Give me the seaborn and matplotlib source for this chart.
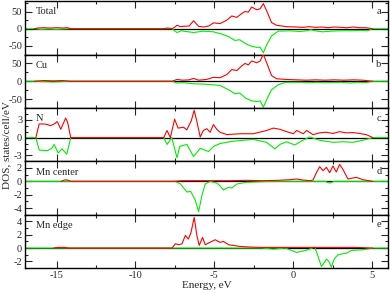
import matplotlib
matplotlib.use("Agg")
import matplotlib.pyplot as plt
from matplotlib.ticker import MultipleLocator
import seaborn as sns
import pandas as pd

# ---------------- data ----------------
panel_names = ["Total", "Cu", "N", "Mn center", "Mn edge"]
panel_letters = ["a", "b", "c", "d", "e"]

total_up_E = [-16.4, -16.2, -15.8, -15.4, -15.0, -14.6, -14.3, -14.1, -8.2, -8.0, -7.8, -7.68, -7.5, -7.37, -7.15, -6.95,
              -6.6, -6.32, -6.0, -5.68, -5.35, -5.06, -4.64, -4.21, -3.9, -3.58, -3.27, -3.06, -2.85, -2.64, -2.32,
              -2.1, -1.9, -1.69, -1.38, -1.06, -0.43, 0.2, 0.6, 1.0, 1.4, 1.8, 2.2, 2.6, 3.0, 3.4, 3.8, 4.2, 4.6, 5.03]
total_up = [0, 2, 3, 2, 3, 2, 3, 0, 0, 2, 1, 0, 5, 10, 6, 7, 8, 23, 7, 5, 8, 17, 15, 25, 37, 33, 44, 50, 48, 63, 55,
            58, 73, 52, 18, 10, 6, 5, 4, 6, 4, 5, 3, 5, 4, 3, 5, 3, 3, 0]
total_dn_E = [-17, -16.4, -16.0, -15.5, -15.0, -14.5, -14.1, -8.0, -7.68, -7.37, -7.1, -6.8, -6.32, -5.7, -5.06, -4.5,
              -4.1, -3.7, -3.4, -3.0, -2.64, -2.32, -2.1, -1.9, -1.69, -1.38, -0.96, -0.22, 0.4, 0.84, 1.1, 1.5, 1.86,
              2.4, 3.0, 3.6, 4.2, 4.7, 5.03, 6]
total_dn = [0, 0, -2, -1, -2, -1, 0, 0, 0, -11, -6, -8, -11, -7, -9, -16, -23, -34, -32, -44, -51, -54, -54, -70, -47,
            -21, -7, -6, -8, -6, -3, -7, -9, -7, -6, -6, -5, -6, 0, 0]

cu_up_E = [-16.4, -15.8, -15.2, -14.6, -14.1, -8.2, -7.68, -7.37, -7.0, -6.6, -6.32, -6.0, -5.5, -5.06, -4.64, -4.21,
           -3.9, -3.58, -3.27, -3.06, -2.85, -2.64, -2.32, -2.1, -1.9, -1.69, -1.38, -1.06, -0.43, 0.2, 0.8, 1.4, 2.0,
           2.6, 3.2, 3.8, 4.4, 5.03]
cu_up = [0, 2, 1, 2, 0, 0, 0, 5, 3, 4, 8, 3, 5, 11, 10, 19, 33, 30, 43, 50, 46, 57, 52, 57, 76, 52, 16, 7, 5, 4, 3, 4,
         3, 4, 3, 4, 3, 0]
cu_dn_E = [-17, -16.4, -15.8, -15.2, -14.6, -14.1, -8.0, -7.68, -7.37, -7.0, -6.32, -5.7, -5.06, -4.64, -4.1, -3.7,
           -3.4, -3.0, -2.64, -2.32, -2.1, -1.9, -1.69, -1.38, -0.96, -0.5, 0.5, 1.0, 1.5, 2.0, 3.0, 3.6, 4.0, 4.6,
           5.03, 6]
cu_dn = [0, 0, -1, -2, -1, 0, 0, 0, -5, -4, -7, -8, -10, -12, -24, -35, -33, -48, -55, -57, -55, -73, -52, -24, -10,
         -3, -3, -4, -3, -4, -3, -5, -3, -4, 0, 0]

n_up_E = [-16.31, -16.1, -15.8, -15.57, -15.4, -15.15, -14.95, -14.73, -14.42, -14.3, -14.1, -8.21, -8.0, -7.79,
          -7.52, -7.3, -6.95, -6.75, -6.47, -6.28, -6.1, -5.9, -5.7, -5.48, -5.27, -5.06, -4.85, -4.64, -4.21, -3.38,
          -2.54, -1.69, -1.27, -0.85, -0.42, 0.0, 0.21, 0.63, 0.84, 1.25, 1.67, 2.09, 2.5, 2.93, 3.35, 3.77, 4.2,
          4.62, 5.04]
n_up = [0, 2.3, 2.3, 2.2, 2.0, 2.3, 2.7, 1.4, 3.3, 2.6, 0, 0, 1.2, 0, 3.1, 1.6, 1.75, 1.3, 2.8, 4.6, 2.6, 0.1, 1.2,
        1.5, 0.9, 2.2, 1.4, 0.9, 0.5, 0.65, 0.65, 1.2, 1.6, 1.4, 1.0, 0.65, 1.2, 0.65, 1.2, 0.5, 0.8, 0.9, 0.7, 1.0,
        0.8, 0.85, 0.7, 0.5, 0]
n_dn_E = [-17, -16.31, -16.1, -15.57, -15.3, -15.15, -14.9, -14.65, -14.35, -14.1, -8.21, -8.0, -7.7, -7.37, -7.2,
          -6.74, -6.32, -5.9, -5.37, -5.06, -4.64, -3.8, -2.54, -1.69, -1.17, -0.85, -0.42, 0.09, 0.5, 1.04, 1.67,
          2.52, 3.15, 3.77, 4.4, 5.04, 6]
n_dn = [0, 0, -2.1, -2.2, -1.8, -1.15, -2.6, -1.9, -2.8, 0, 0, -1.15, 0, -3.4, -1.5, -1.15, -3.2, -1.8, -2.35, -1.5,
        -1.0, -0.6, -0.3, -0.8, -1.9, -1.15, -0.7, -1.25, -0.6, 0.1, -0.45, -0.8, -0.7, -0.8, -0.45, 0, 0]

mnc_up_E = [-14.7, -14.5, -14.3, -14.1, -7.6, -7.0, -6.0, -5.0, -4.0, -3.0, -2.0, -1.0, -0.22, 0.2, 0.6, 1.04, 1.25,
            1.46, 1.67, 1.88, 2.1, 2.3, 2.51, 2.72, 2.93, 3.14, 3.46, 3.99, 4.4, 5.03]
mnc_up = [0, 0.2, 0.2, 0, 0, 0.1, 0.1, 0.1, 0.1, 0.15, 0.1, 0.15, 0.25, 0.35, 0.2, 0.1, 0.2, 1.3, 2.2, 1.6, 2.1, 1.3,
          2.3, 1.4, 2.55, 1.8, 0.35, 0.6, 0.25, 0]
mnc_dn_E = [-17, -7.47, -7.15, -6.74, -6.5, -6.21, -6.0, -5.79, -5.58, -5.27, -4.85, -4.64, -4.43, -4.12, -3.9, -3.58,
            -3.0, -1.5, 2.0, 2.3, 2.6, 5.03, 6]
mnc_dn = [0, 0, -0.4, -1.6, -1.5, -2.85, -4.55, -2.1, -0.4, 0, -0.25, -0.65, -1.3, -0.9, -1.0, -0.4, -0.15, 0, 0,
          -0.25, 0, 0, 0]

mne_up_E = [-15.2, -14.9, -14.5, -14.2, -7.68, -7.47, -7.26, -7.05, -6.84, -6.65, -6.49, -6.28, -6.1, -5.96, -5.75,
            -5.58, -5.37, -4.95, -4.64, -4.43, -4.1, -3.8, -3.4, -2.74, -2.0, -1.0, 0.0, 1.0, 2.0, 3.0, 4.0, 5.03]
mne_up = [0, 0.1, 0.1, 0, 0, 0.65, 0.5, 0.65, 1.9, 1.35, 2.25, 4.6, 1.75, 0.4, 1.6, 0.5, 0.75, 1.25, 0.85, 1.0, 0.5,
          0.4, 0.25, 0.15, 0.1, 0.1, 0.1, 0.1, 0.1, 0.1, 0.1, 0]
mne_dn_E = [-17, -2.0, -1.27, -0.5, 0.2, 0.8, 1.36, 1.57, 1.78, 1.95, 2.1, 2.25, 2.41, 2.6, 2.83, 3.36, 3.7, 4.41,
            5.03, 6]
mne_dn = [0, 0, -0.15, 0, -0.65, -0.35, 0.15, -1.25, -2.75, -2.2, -1.65, -2.0, -2.85, -1.6, -1.0, -0.75, -0.35,
          -0.25, 0, 0]

up_series = [(total_up_E, total_up), (cu_up_E, cu_up), (n_up_E, n_up), (mnc_up_E, mnc_up), (mne_up_E, mne_up)]
dn_series = [(total_dn_E, total_dn), (cu_dn_E, cu_dn), (n_dn_E, n_dn), (mnc_dn_E, mnc_dn), (mne_dn_E, mne_dn)]

ylims = [(-75, 80), (-75, 75), (-4, 5), (-5, 3), (-3, 5)]
ymajor = [50, 50, 3, 2, 2]
yminor = [25, 25, 1, 1, 1]
xticks = [-15, -10, -5, 0, 5]

# ---------------- style ----------------
sns.set_style("ticks")
plt.rcParams["font.family"] = ["Liberation Serif", "DejaVu Serif"]
plt.rcParams["axes.unicode_minus"] = False
plt.rcParams["font.size"] = 7.5

fig = plt.figure(figsize=(3.9, 2.93), dpi=100)
gs = fig.add_gridspec(5, 1, left=0.064, right=0.995, top=0.996, bottom=0.085, hspace=0)

for i in range(5):
    ax = fig.add_subplot(gs[i])
    ax.axhline(0, color="black", lw=0.9, zorder=1)
    dE, dV = dn_series[i]
    uE, uV = up_series[i]
    sns.lineplot(data=pd.DataFrame({"E": dE, "V": dV}), x="E", y="V", ax=ax, color="#00ee00",
                 lw=0.8, estimator=None, sort=False, zorder=2)
    sns.lineplot(data=pd.DataFrame({"E": uE, "V": uV}), x="E", y="V", ax=ax, color="#ff0000",
                 lw=0.8, estimator=None, sort=False, zorder=3)
    ax.set_xlim(-17, 6)
    ax.set_ylim(*ylims[i])
    ax.set_xticks(xticks)
    ax.xaxis.set_minor_locator(MultipleLocator(2.5))
    ax.yaxis.set_major_locator(MultipleLocator(ymajor[i]))
    ax.yaxis.set_minor_locator(MultipleLocator(yminor[i]))
    ax.tick_params(which="both", direction="in", top=True, right=True, width=0.8, labelsize=7.5, pad=2)
    ax.tick_params(which="major", length=5)
    ax.tick_params(which="minor", length=2.5)
    for s in ax.spines.values():
        s.set_linewidth(1.0)
        s.set_color("black")
    ax.set_xlabel("")
    ax.set_ylabel("")
    if i < 4:
        ax.tick_params(labelbottom=False)
    ax.text(0.03, 0.80, panel_names[i], transform=ax.transAxes, ha="left", va="center", fontsize=7.5)
    ax.text(0.975, 0.81, panel_letters[i], transform=ax.transAxes, ha="center", va="center", fontsize=7.5)
    if i == 4:
        ax.set_xlabel("Energy, eV", fontsize=8, labelpad=1)

fig.text(0.018, 0.505, "DOS, states/cell/eV", rotation=90, ha="center", va="center", fontsize=8)

fig.savefig("out.png", dpi=100)
